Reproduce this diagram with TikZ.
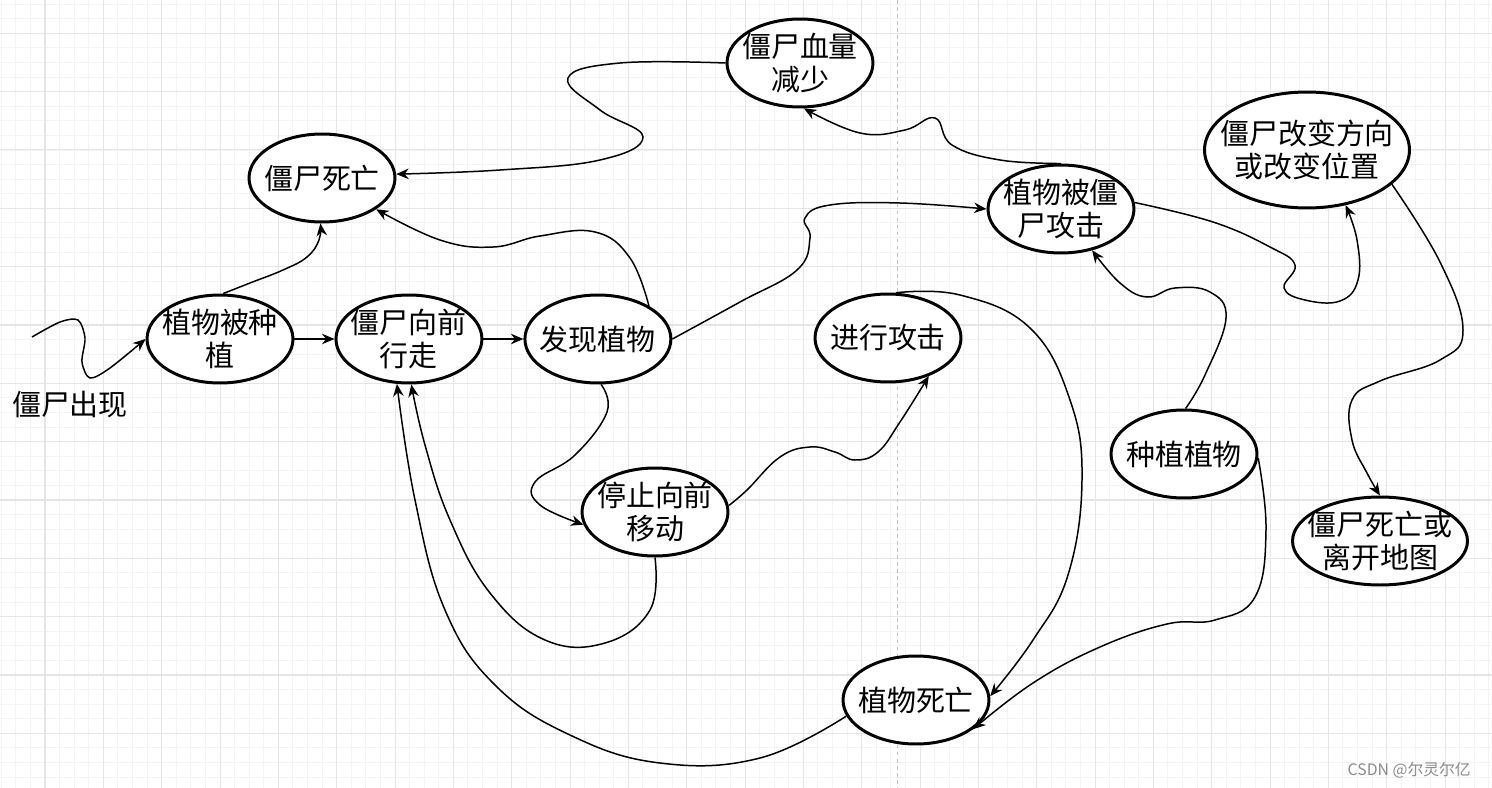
\documentclass[tikz,border=0pt]{standalone}
\usepackage{fontspec}
\newfontfamily\cjk{Noto Sans CJK SC}
\usetikzlibrary{shapes.geometric, arrows.meta, positioning}
\definecolor{gridmin}{HTML}{F3F3F3}
\definecolor{gridmaj}{HTML}{E5E5E5}
\definecolor{pageline}{HTML}{C4C4C4}
% zero-width line, so the ellipse keeps its fixed size
\newcommand\zw[1]{\makebox[0pt]{#1}}

\begin{document}
\begin{tikzpicture}[
        x=0.02cm, y=-0.02cm,
        node distance=0.8cm,
        zstate/.style={ellipse, draw, line width=1.7pt, fill=white, inner sep=0pt,
            minimum width=2.92cm, minimum height=1.76cm, align=center,
            font=\cjk\fontsize{16.5}{19}\selectfont},
        wide/.style={minimum width=3.5cm},
        wider/.style={minimum width=4.1cm, minimum height=2.32cm},
        arrow/.style={-{Stealth[length=2.5mm, width=2.1mm]}, line width=0.85pt},
        wavy/.style={smooth, tension=0.7},
        gridline/.style={line width=0.57pt}
    ]

    % Arka plan (grid + page line)
    \useasboundingbox (0,0) rectangle (1492,788);
    \fill[white] (0,0) rectangle (1492,788);
    \foreach \i in {0,...,102} \draw[gridline, gridmin] ({1.25+\i*14.5833},0) -- ++(0,788);
    \foreach \j in {0,...,53} \draw[gridline, gridmin] (0,{4.17+\j*14.5833}) -- ++(1492,0);
    \foreach \i in {0,...,24} \draw[gridline, gridmaj] ({45+\i*58.333},0) -- ++(0,788);
    \foreach \j in {0,...,12} \draw[gridline, gridmaj] (0,{33.33+\j*58.333}) -- ++(1492,0);
    \draw[gridline, pageline, dash pattern=on 2pt off 2pt] (897,0) -- (897,788);

    % Nodes
    \node (appear) [font=\cjk\fontsize{16.5}{19}\selectfont, inner sep=0pt] at (70,405) {僵尸出现};
    \coordinate (s0) at (32,337);

    \node (plant) [zstate] at (220,339) {\zw{植物被种}\\\zw{植}};
    \node (walk) [zstate, right=of plant] {\zw{僵尸向前}\\\zw{行走}};
    \node (find) [zstate, right=of walk] {\zw{发现植物}};
    \node (attack) [zstate] at (888,338) {\zw{进行攻击}};
    \node (stop) [zstate] at (655,512) {\zw{停止向前}\\\zw{移动}};
    \node (pdie) [zstate] at (916,700) {\zw{植物死亡}};
    \node (zdie) [zstate] at (322,178) {\zw{僵尸死亡}};
    \node (hp) [zstate] at (800,63) {\zw{僵尸血量}\\\zw{减少}};
    \node (hit) [zstate] at (1061,209) {\zw{植物被僵}\\\zw{尸攻击}};
    \node (sow) [zstate] at (1184,454) {\zw{种植植物}};
    \node (turn) [zstate, wider] at (1307,150) {\zw{僵尸改变方向}\\\zw{或改变位置}};
    \node (zleave) [zstate, wide] at (1380,541) {\zw{僵尸死亡或}\\\zw{离开地图}};

    \node (mark) [font=\cjk\fontsize{9}{11}\selectfont, text=gray!90, anchor=east] at (1477,770) {CSDN @尔灵尔亿};

    % Arrows
    \draw [arrow] plot[smooth] coordinates {(s0) (60,322) (78,320) (85,338) (82,362) (90,378) (110,368) (plant.west)};
    \draw [arrow] (plant) -- (walk);
    \draw [arrow] (walk) -- (find);
    \draw [arrow] plot[wavy] coordinates {(plant.86) (250,283) (283,270) (307,257) (319,240) (zdie.-92)};
    \draw [arrow] plot[wavy] coordinates {(find.33) (630,258) (595,232) (540,236) (493,247) (440,240) (zdie.-30)};
    \draw [arrow] plot[wavy] coordinates {(hp.west) (620,63) (568,78) (600,110) (643,137) (600,160) (500,170) (zdie.3)};
    \draw [arrow] plot[wavy] coordinates {(hit.north) (1000,160) (952,145) (935,118) (905,130) (860,133) (hp.-85)};
    \draw [arrow] plot[wavy] coordinates {(find.east) (740,302) (797,270) (810,238) (805,218) (830,205) (900,203) (hit.west)};
    \draw [arrow] plot[wavy] coordinates {(find.-86) (607,412) (575,455) (535,482) (540,505) (stop.190)};
    \draw [arrow] plot[wavy] coordinates {(stop.5) (747,490) (780,457) (810,447) (835,452) (855,460) (878,452) (900,422) (attack.-43)};
    \draw [arrow] plot[wavy] coordinates {(stop.south) (650,610) (605,643) (545,640) (490,593) (450,520) (425,445) (walk.-87)};
    \draw [arrow] plot[wavy] coordinates {(pdie.193) (760,758) (660,763) (570,735) (495,685) (445,610) (415,500) (walk.-105)};
    \draw [arrow] plot[wavy] coordinates {(attack.80) (960,295) (1030,328) (1070,400) (1082,480) (1068,575) (1033,640) (pdie.3)};
    \draw [arrow] plot[wavy] coordinates {(sow.88) (1205,375) (1226,318) (1210,292) (1175,288) (1147,297) (1120,283) (hit.-53)};
    \draw [arrow] plot[wavy] coordinates {(sow.-3) (1266,530) (1255,597) (1215,620) (1167,624) (1100,647) (1033,683) (pdie.-27)};
    \draw [arrow] plot[wavy] coordinates {(hit.5) (1213,222) (1270,247) (1295,265) (1284,288) (1305,300) (1340,301) (1358,280) (1357,240) (turn.-55)};
    \draw [arrow] plot[wavy] coordinates {(turn.-22) (1440,262) (1463,330) (1440,360) (1380,381) (1352,400) (1352,440) (1367,473) (zleave.north)};

\end{tikzpicture}
\end{document}
